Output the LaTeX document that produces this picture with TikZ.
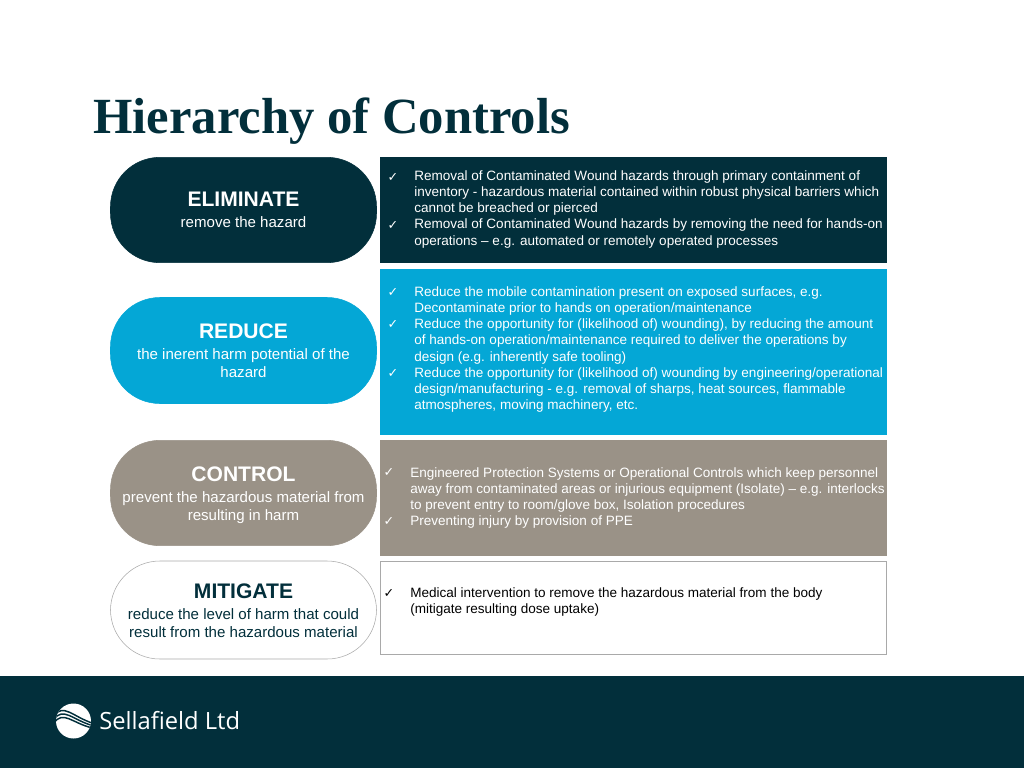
\documentclass[tikz,border=0pt]{standalone}
\usepackage{fontspec}
\setmainfont{Liberation Sans}
\newfontfamily\titlefont{Liberation Serif}
\newfontfamily\logofont{Open Sans}
\newfontfamily\tickfont{DejaVu Sans}
\definecolor{darkteal}{HTML}{022F3B}
\definecolor{brightblue}{HTML}{04A7D6}
\definecolor{warmgrey}{HTML}{9A9287}
\definecolor{pillline}{HTML}{A9A9A9}
\newcommand{\pilltext}[2]{{\fontsize{15.8}{16.5}\selectfont\bfseries #1}\\[2.2pt]#2}
\begin{document}
\begin{tikzpicture}[x=0.75pt,y=-0.75pt,
   pill/.style={draw=#1,fill=#1,rounded corners=37pt,minimum width=199.5pt,align=center,
      font=\fontsize{11.3}{13.5}\selectfont,inner sep=0pt},
   panel/.style={draw=#1,fill=#1,minimum width=379.5pt,inner sep=0pt},
   body/.style={anchor=north west,align=left,inner sep=0pt,
      font=\fontsize{10.15}{12.2}\selectfont},
   tick/.style={anchor=center,inner sep=0pt,font=\tickfont\fontsize{9.5}{10}\selectfont}]
\useasboundingbox (0,0) rectangle (1024,768);

\node[anchor=west,inner sep=0pt,text=darkteal,font=\titlefont\fontsize{38}{42}\selectfont\bfseries] (title) at (93,121) {Hierarchy of Controls};

% the four levels
\node[pill=darkteal,minimum height=79pt,text=white] (eliminate) at (243.5,210) {\pilltext{ELIMINATE}{remove the hazard}};
\node[pill=brightblue,minimum height=79.5pt,text=white] (reduce) at (243.5,350.5) {\pilltext{REDUCE}{the inerent harm potential of the\\hazard}};
\node[pill=warmgrey,minimum height=79pt,text=white] (control) at (243.5,493) {\pilltext{\rule{0pt}{14.5pt}CONTROL}{prevent the hazardous material from\\resulting in harm}};
\node[pill=pillline,fill=white,minimum height=73.5pt,text=darkteal] (mitigate) at (243.5,610) {\pilltext{\rule{0pt}{12.5pt}MITIGATE}{reduce the level of harm that could\\result from the hazardous material}};

% panels
\node[panel=darkteal,minimum height=79pt] (elimpanel) at (633.5,210) {};
\node[panel=brightblue,minimum height=124pt] (redpanel) at (633.5,352) {};
\node[panel=warmgrey,minimum height=86.5pt] (ctrlpanel) at (633.5,498) {};
\node[panel=pillline,fill=white,minimum height=70pt] (mitpanel) at (633.5,608) {};

\node[body,text=white] (elimtext) at (414,170) {Removal of Contaminated Wound hazards through primary containment of\\
inventory - hazardous material contained within robust physical barriers which\\
cannot be breached or pierced\\
Removal of Contaminated Wound hazards by removing the need for hands-on\\
operations -- e.g. automated or remotely operated processes};
\node[tick,text=white] (elimtick1) at (393,178) {✓};
\node[tick,text=white] (elimtick2) at (393,226) {✓};

\node[body,text=white] (redtext) at (414,286) {Reduce the mobile contamination present on exposed surfaces, e.g.\\
Decontaminate prior to hands on operation/maintenance\\
Reduce the opportunity for (likelihood of) wounding), by reducing the amount\\
of hands-on operation/maintenance required to deliver the operations by\\
design (e.g. inherently safe tooling)\\
Reduce the opportunity for (likelihood of) wounding by engineering/operational\\
design/manufacturing - e.g. removal of sharps, heat sources, flammable\\
atmospheres, moving machinery, etc.};
\node[tick,text=white] (redtick1) at (393,293) {✓};
\node[tick,text=white] (redtick2) at (393,325) {✓};
\node[tick,text=white] (redtick3) at (393,374) {✓};

\node[body,text=white] (ctrltext) at (410,467) {Engineered Protection Systems or Operational Controls which keep personnel\\
away from contaminated areas or injurious equipment (Isolate) -- e.g. interlocks\\
to prevent entry to room/glove box, Isolation procedures\\
Preventing injury by provision of PPE};
\node[tick,text=white] (ctrltick1) at (389,473) {✓};
\node[tick,text=white] (ctrltick2) at (389,522) {✓};

\node[body,text=black] (mittext) at (410,587) {Medical intervention to remove the hazardous material from the body\\
(mitigate resulting dose uptake)};
\node[tick,text=black] (mittick) at (389,593) {✓};

% footer
\fill[darkteal] (0,676) rectangle (1024,768);
\fill[white] (73.5,721) circle (17.5);
\begin{scope}
\clip (73.5,721) circle (17.5);
\foreach \yy in {0,3.5,7}{
  \draw[darkteal,line width=1.1pt] (54,716+\yy) .. controls (63,703+\yy) and (72,716+\yy) .. (92,723+\yy*0.7);
}
\end{scope}
\node[anchor=west,inner sep=0pt,text=white,font=\logofont\fontsize{17.8}{22}\selectfont] (logotext) at (99,721) {Sellafield Ltd};
\end{tikzpicture}
\end{document}
